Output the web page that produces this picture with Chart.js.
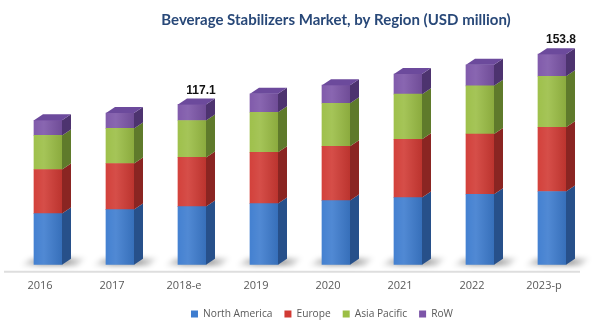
<!DOCTYPE html>
<html><head><meta charset="utf-8">
<script src="https://cdn.jsdelivr.net/npm/chart.js@4.4.1/dist/chart.umd.min.js"></script>
<style>html,body{margin:0;padding:0;background:#fff;}</style>
</head><body>
<canvas id="c" width="613" height="334"></canvas>
<script>
const categories = ['2016','2017','2018-e','2019','2020','2021','2022','2023-p'];
const seriesNames = ['North America','Europe','Asia Pacific','RoW'];
const northAmerica = [37.4,40.3,42.5,44.7,46.9,49.1,51.5,53.5];
const europe       = [32.2,33.7,35.9,37.4,39.6,42.5,44.0,46.9];
const asiaPacific  = [24.9,25.6,27.0,29.3,31.5,33.0,35.2,37.3];
const rowValues    = [11.0,11.2,11.7,13.5,13.2,14.7,15.4,16.1];
const totalLabels  = ['','','117.1','','','','','153.8'];

const frontColors = ['#3D7CCF','#D13A34','#9BBE45','#7C55A8'];
const sideColors  = ['#27508A','#8A2522','#5F7A2B','#4D336F'];
const topColor = '#6C4A9C';
const DX = 9, DY = 6;

const bar3d = {
  id: 'bar3d',
  afterLayout(chart) {
    chart.titleBlock.left += 36; chart.titleBlock.right += 36;
    chart.legend.left += 22; chart.legend.right += 22;
  },
  beforeDatasetsDraw(chart) {
    const ctx = chart.ctx, area = chart.chartArea;
    ctx.save();
    ctx.strokeStyle = '#DEDEDE'; ctx.lineWidth = 2;
    ctx.beginPath(); ctx.moveTo(4, area.bottom + 7); ctx.lineTo(580, area.bottom + 7); ctx.stroke();
    const meta = chart.getDatasetMeta(0);
    ctx.filter = 'blur(2.5px)';
    meta.data.forEach(el => {
      const {x, base, width} = el.getProps(['x','base','width'], true);
      const l = x - width/2, r = x + width/2;
      const g = ctx.createLinearGradient(l - 14, 0, r + DX + 16, 0);
      g.addColorStop(0, 'rgba(0,0,0,0)');
      g.addColorStop(0.3, 'rgba(0,0,0,0.35)');
      g.addColorStop(0.7, 'rgba(0,0,0,0.35)');
      g.addColorStop(1, 'rgba(0,0,0,0)');
      ctx.fillStyle = g;
      ctx.beginPath();
      ctx.moveTo(l - 14, base + 1); ctx.lineTo(l - 4, base - 6);
      ctx.lineTo(r + DX + 16, base - 7); ctx.lineTo(r + DX + 6, base + 1);
      ctx.closePath(); ctx.fill();
    });
    ctx.restore();
  },
  afterDatasetsDraw(chart) {
    const ctx = chart.ctx;
    const n = chart.data.datasets.length;
    ctx.save();
    for (let j = 0; j < n; j++) {
      const meta = chart.getDatasetMeta(j);
      meta.data.forEach((el, i) => {
        const {x, y, base, width} = el.getProps(['x','y','base','width'], true);
        const l = x - width/2, r = x + width/2;
        const g = ctx.createLinearGradient(l, 0, r, 0);
        g.addColorStop(0, 'rgba(255,255,255,0.04)');
        g.addColorStop(0.35, 'rgba(255,255,255,0.10)');
        g.addColorStop(1, 'rgba(0,0,0,0.10)');
        ctx.fillStyle = g;
        ctx.fillRect(l, y, width, base - y);
        ctx.fillStyle = sideColors[j];
        ctx.beginPath();
        ctx.moveTo(r, base); ctx.lineTo(r, y); ctx.lineTo(r + DX, y - DY); ctx.lineTo(r + DX, base - DY);
        ctx.closePath(); ctx.fill();
        if (j === n - 1) {
          ctx.fillStyle = topColor;
          ctx.beginPath();
          ctx.moveTo(l, y); ctx.lineTo(l + DX, y - DY); ctx.lineTo(r + DX, y - DY); ctx.lineTo(r, y);
          ctx.closePath(); ctx.fill();
          if (totalLabels[i]) {
            ctx.fillStyle = '#111';
            ctx.font = 'bold 12px "Liberation Sans", Arial, sans-serif';
            ctx.textAlign = 'center'; ctx.textBaseline = 'middle';
            ctx.fillText(totalLabels[i], x + DX, y - 14);
          }
        }
      });
    }
    ctx.restore();
  }
};

new Chart(document.getElementById('c'), {
  type: 'bar',
  data: {
    labels: categories,
    datasets: [
      {label: seriesNames[0], data: northAmerica, backgroundColor: frontColors[0]},
      {label: seriesNames[1], data: europe, backgroundColor: frontColors[1]},
      {label: seriesNames[2], data: asiaPacific, backgroundColor: frontColors[2]},
      {label: seriesNames[3], data: rowValues, backgroundColor: frontColors[3]}
    ]
  },
  options: {
    responsive: false, animation: false, devicePixelRatio: 1,
    layout: {padding: {left: 12, right: 25, top: 0, bottom: 5}},
    datasets: {bar: {barThickness: 28, borderWidth: 0}},
    scales: {
      x: {
        stacked: true,
        grid: {display: false, drawTicks: false},
        border: {display: false},
        ticks: {padding: 14, labelOffset: -8, maxRotation: 0, color: '#595959', font: {family: 'Open Sans', size: 11}},
        afterFit(s) { s.height = 32; }
      },
      y: {stacked: true, display: false, min: 0, max: 170}
    },
    plugins: {
      title: {display: true, text: 'Beverage Stabilizers Market, by Region (USD million)', color: '#284878',
              font: {family: 'Lato', size: 15, weight: 'bold'}, padding: {top: 11, bottom: 3}},
      legend: {position: 'bottom', labels: {boxWidth: 7, boxHeight: 7, padding: 12, color: '#595959',
              font: {family: 'Open Sans', size: 10.2}}},
      tooltip: {enabled: false}
    }
  },
  plugins: [bar3d]
});
</script>
</body></html>
